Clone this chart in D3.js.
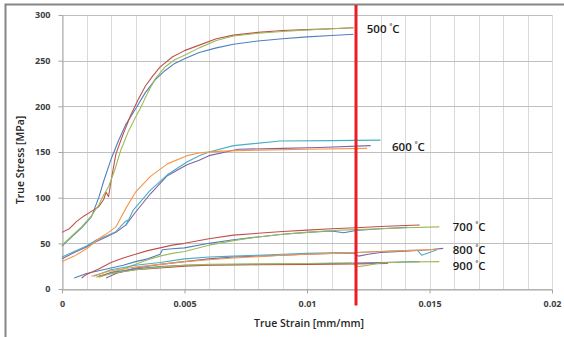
<!DOCTYPE html>
<html>
<head>
<meta charset="utf-8">
<title>True Stress vs True Strain</title>
<style>
  body { margin: 0; background: #fff; }
  text { font-family: "Open Sans", "Liberation Sans", sans-serif; }
  .tick text { font-size: 9px; font-weight: bold; fill: #404040; }
  .tick line { stroke: #a6a6a6; }
  .domain { stroke: #a6a6a6; }
  .curve { fill: none; stroke-width: 1.1; stroke-linejoin: round; }
</style>
</head>
<body>
<script src="https://cdn.jsdelivr.net/npm/d3@7"></script>
<script>
// tick labels
const xTicks = [0, 0.005, 0.01, 0.015, 0.02];
const xTickLabels = ["0", "0.005", "0.01", "0.015", "0.02"];
const yTicks = [0, 50, 100, 150, 200, 250, 300];

// curves, [strain, stress] pairs
const c500a = [[0,62],[0.0003,66],[0.0006,74],[0.0009,80],[0.0012,85],[0.0015,90],[0.0017,98],[0.0018,106],[0.0019,101],[0.002,118],[0.0022,148],[0.0025,170],[0.0028,190],[0.0031,207],[0.0034,222],[0.0037,233],[0.004,243],[0.0045,254],[0.005,261],[0.0056,267],[0.0063,274],[0.007,278],[0.008,281],[0.009,283],[0.01,284],[0.011,285],[0.0119,286]];
const c500b = [[0,48],[0.0004,58],[0.0008,68],[0.0012,80],[0.0015,92],[0.0017,103],[0.0019,112],[0.00215,130],[0.0024,152],[0.0027,172],[0.003,188],[0.0032,198],[0.0035,215],[0.0038,230],[0.0042,243],[0.0046,251],[0.005,256],[0.0056,264],[0.0063,272],[0.007,277],[0.008,280],[0.009,282],[0.01,283.5],[0.011,285],[0.0119,286]];
const c500c = [[0,47],[0.0004,57],[0.0008,67],[0.0012,79],[0.0015,100],[0.0017,118],[0.002,142],[0.0023,162],[0.0026,180],[0.003,197],[0.0034,215],[0.0038,229],[0.0042,239],[0.0046,247],[0.005,252],[0.0056,259],[0.0063,264],[0.007,268],[0.008,271.5],[0.009,274],[0.01,276],[0.011,277.5],[0.0119,279]];

const c600a = [[0,33],[0.0005,40],[0.001,46],[0.0014,52],[0.0018,57],[0.0022,62],[0.0026,70],[0.003,84],[0.0036,104],[0.0043,124],[0.0051,136],[0.0056,141],[0.006,146],[0.007,152],[0.0072,153],[0.009,154],[0.0105,155],[0.0126,157]];
const c600b = [[0,35],[0.0005,41],[0.001,47],[0.0014,53.6],[0.0018,58],[0.0022,62.7],[0.00257,73.6],[0.0027,75.5],[0.00262,70],[0.0029,86],[0.0036,108],[0.0043,125],[0.0051,139],[0.0056,146],[0.006,150],[0.007,157],[0.0089,162],[0.011,162.5],[0.013,163]];
const c600c = [[0,30],[0.0005,36],[0.001,44],[0.0015,55],[0.0019,62],[0.0022,68],[0.0026,88],[0.003,106],[0.0036,123],[0.0043,137],[0.0051,146],[0.0056,149],[0.0065,151],[0.008,152],[0.01,153],[0.01245,154]];

const c700a = [[0.0008,12],[0.001,16],[0.0015,22],[0.002,29],[0.0025,34],[0.003,38],[0.0035,42],[0.004,45],[0.0045,48],[0.005,50],[0.006,55],[0.007,59],[0.008,61],[0.009,63],[0.01,64.5],[0.011,66],[0.012,67],[0.013,68.5],[0.014,69.5],[0.0146,70]];
const c700b = [[0.0014,13],[0.002,18],[0.0025,22],[0.003,27],[0.0035,32],[0.004,36],[0.0045,39],[0.005,41],[0.006,48],[0.007,53],[0.008,57],[0.009,60],[0.01,62],[0.011,64],[0.012,65],[0.013,66],[0.014,67],[0.0154,68]];
const c700c = [[0.0005,12],[0.001,17],[0.0015,20],[0.002,23],[0.0025,26],[0.003,30],[0.0035,33],[0.004,38],[0.0041,43],[0.0045,44],[0.005,45],[0.006,50],[0.007,54],[0.008,57],[0.009,60],[0.01,62],[0.011,63.5],[0.0115,61.5],[0.012,64],[0.013,66],[0.0141,67.5]];

const c800a = [[0.0012,14],[0.002,20],[0.003,24],[0.004,27],[0.005,30],[0.006,32],[0.007,34],[0.008,35.5],[0.009,37],[0.01,38],[0.011,39],[0.012,40],[0.013,41],[0.014,42],[0.015,43],[0.0153,43.5]];
const c800b = [[0.0018,12],[0.0022,17],[0.003,23],[0.004,27],[0.005,30],[0.006,33],[0.007,35],[0.008,36],[0.009,37],[0.01,38],[0.011,39],[0.0119,39.5],[0.0121,36],[0.0125,38],[0.013,40],[0.014,41.5],[0.015,43],[0.01556,44.5]];
const c800c = [[0.0013,14],[0.002,21],[0.003,26],[0.004,29],[0.005,33],[0.006,35],[0.007,36],[0.008,37],[0.009,38],[0.01,39],[0.011,39.5],[0.012,40],[0.013,41],[0.014,42],[0.0145,42.5],[0.01468,37],[0.015,40],[0.0153,43]];

const c900a = [[0.0016,14],[0.002,18],[0.003,22],[0.004,24.5],[0.005,26],[0.006,26.5],[0.008,27],[0.01,27.5],[0.011,28],[0.012,28.5],[0.013,29],[0.0146,30]];
const c900b = [[0.0015,14],[0.002,17],[0.003,21],[0.004,23],[0.005,25],[0.006,26],[0.008,26.5],[0.01,27],[0.012,27.5],[0.0133,28]];
const c900c = [[0.0015,13],[0.002,17],[0.003,21],[0.004,24],[0.005,26],[0.006,27],[0.008,27.5],[0.01,28],[0.011,28.5],[0.0118,28.5],[0.0121,24.5],[0.0125,26],[0.013,28.5],[0.014,29.5],[0.0154,30]];

// Excel-style series colours, in series order
const colors = ["#4f81bd", "#c0504d", "#9bbb59", "#8064a2", "#4bacc6", "#f79646"];
const curves = [c500c, c500a, c500b, c600a, c600b, c600c, c700c, c700a, c700b, c800b, c800c, c800a, c900a, c900b, c900c];

// temperature labels: text, strain, stress
const tempLabels = [["500", 0.01244, 280], ["600", 0.01347, 151], ["700", 0.01595, 63.5], ["800", 0.01595, 38], ["900", 0.01595, 21]];
const cutStrain = 0.012;

const W = 564, H = 337;
const x = d3.scaleLinear().domain([0, 0.02]).range([62, 552]);
const y = d3.scaleLinear().domain([0, 300]).range([289, 15]);

const svg = d3.select("body").append("svg")
  .attr("width", W).attr("height", H);

// outer chart border
svg.append("rect")
  .attr("x", 5.5).attr("y", 4.5)
  .attr("width", 620).attr("height", 400)
  .attr("fill", "none").attr("stroke", "#858585").attr("stroke-width", 2);

// grid
svg.append("g").selectAll("line")
  .data(d3.range(0, 21).map(i => i * 0.001))
  .enter().append("line")
  .attr("x1", d => Math.round(x(d)) + 0.5).attr("x2", d => Math.round(x(d)) + 0.5)
  .attr("y1", y(300)).attr("y2", y(0))
  .attr("stroke", "#d9d9d9");

svg.append("g").selectAll("line")
  .data(yTicks)
  .enter().append("line")
  .attr("x1", x(0)).attr("x2", x(0.02))
  .attr("y1", d => Math.round(y(d)) + 0.5).attr("y2", d => Math.round(y(d)) + 0.5)
  .attr("stroke", "#bfbfbf");

// axes
svg.append("g")
  .attr("transform", "translate(0," + (Math.round(y(0)) + 0.5) + ")")
  .call(d3.axisBottom(x).tickValues(xTicks)
    .tickFormat((d, i) => xTickLabels[i])
    .tickSize(4).tickPadding(7).tickSizeOuter(0));

svg.append("g")
  .attr("transform", "translate(" + (Math.round(x(0)) + 0.5) + ",0)")
  .call(d3.axisLeft(y).tickValues(yTicks).tickSize(4).tickPadding(8).tickSizeOuter(0));

// curves
const line = d3.line().x(d => x(d[0])).y(d => y(d[1]));
svg.append("g").selectAll("path")
  .data(curves)
  .enter().append("path")
  .attr("class", "curve")
  .attr("d", line)
  .attr("stroke", (d, i) => colors[i % colors.length]);

// red cut line
svg.append("line")
  .attr("x1", x(cutStrain)).attr("x2", x(cutStrain))
  .attr("y1", y(311)).attr("y2", y(-18))
  .attr("stroke", "#ec1c24").attr("stroke-width", 3);

// temperature labels
const tl = svg.append("g").selectAll("text")
  .data(tempLabels)
  .enter().append("text")
  .attr("x", d => x(d[1])).attr("y", d => y(d[2]))
  .attr("font-size", "11.5px").attr("font-weight", "600").attr("fill", "#1a1a1a");
tl.append("tspan").text(d => d[0] + " ");
tl.append("tspan").attr("dy", -4).attr("font-size", "6.5px").text("°");
tl.append("tspan").attr("dy", 4).text("C");

// axis titles
svg.append("text")
  .attr("x", 309).attr("y", 327)
  .attr("text-anchor", "middle")
  .attr("font-size", "10.5px").attr("font-weight", "600").attr("fill", "#262626")
  .text("True Strain [mm/mm]");

svg.append("text")
  .attr("transform", "translate(24,160) rotate(-90)")
  .attr("text-anchor", "middle")
  .attr("font-size", "10.5px").attr("font-weight", "600").attr("fill", "#262626")
  .text("True Stress [MPa]");
</script>
</body>
</html>
